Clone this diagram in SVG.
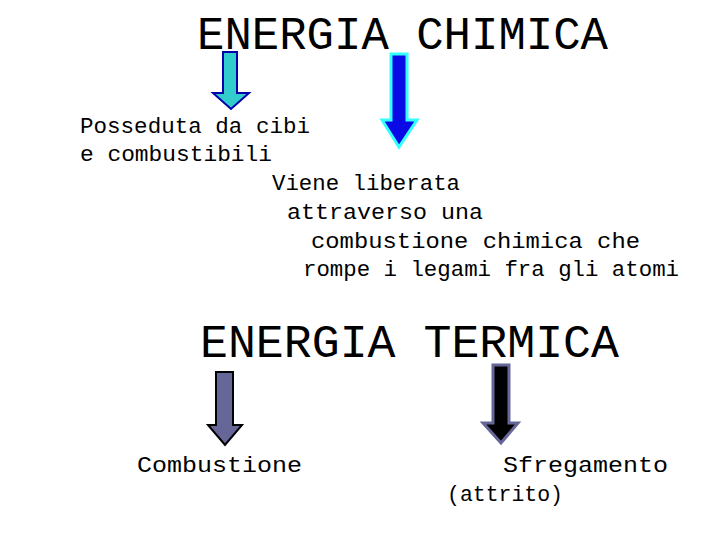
<svg xmlns="http://www.w3.org/2000/svg" width="720" height="540" viewBox="0 0 720 540">
<style>
.t{font-family:"Liberation Mono","Courier New",monospace;fill:#000}
.h{font-size:46px}
.s{font-size:22px}
</style>
<rect width="720" height="540" fill="#fff"/>
<g id="title1"><text class="t h" x="197" y="49" textLength="411" lengthAdjust="spacingAndGlyphs">ENERGIA CHIMICA</text></g>
<g id="title2"><text class="t h" x="200" y="357" textLength="419" lengthAdjust="spacingAndGlyphs">ENERGIA TERMICA</text></g>
<g id="text1">
<text class="t s" x="80" y="133" textLength="230" lengthAdjust="spacingAndGlyphs">Posseduta da cibi</text>
<text class="t s" x="80" y="161" textLength="192" lengthAdjust="spacingAndGlyphs">e combustibili</text>
</g>
<g id="text2">
<text class="t s" x="272" y="190" textLength="188" lengthAdjust="spacingAndGlyphs">Viene liberata</text>
<text class="t s" x="287" y="219" textLength="196" lengthAdjust="spacingAndGlyphs">attraverso una</text>
<text class="t s" x="311" y="248" textLength="329" lengthAdjust="spacingAndGlyphs">combustione chimica che</text>
<text class="t s" x="303" y="276" textLength="376" lengthAdjust="spacingAndGlyphs">rompe i legami fra gli atomi</text>
</g>
<g id="text3"><text class="t s" x="137" y="472" textLength="165" lengthAdjust="spacingAndGlyphs">Combustione</text></g>
<g id="text4">
<text class="t s" x="503" y="472" textLength="165" lengthAdjust="spacingAndGlyphs">Sfregamento</text>
<text class="t s" x="447" y="501" textLength="116" lengthAdjust="spacingAndGlyphs">(attrito)</text>
</g>
<g id="connectors" stroke-linejoin="miter">
<polygon points="223,52 237,52 237,93 249,93 231,109 213,93 223,93" fill="#33cccc" stroke="#0000aa" stroke-width="2"/>
<polygon points="391,54 407,54 407,120 417,120 399,147 382,120 391,120" fill="#0a0ae6" stroke="#33ffff" stroke-width="3"/>
<polygon points="216,372 233,372 233,425 242,425 225,445 208,425 216,425" fill="#666699" stroke="#000" stroke-width="2"/>
<polygon points="493,365 509,365 509,423 518,423 501,443 483,423 493,423" fill="#000" stroke="#666699" stroke-width="3"/>
</g>
</svg>
